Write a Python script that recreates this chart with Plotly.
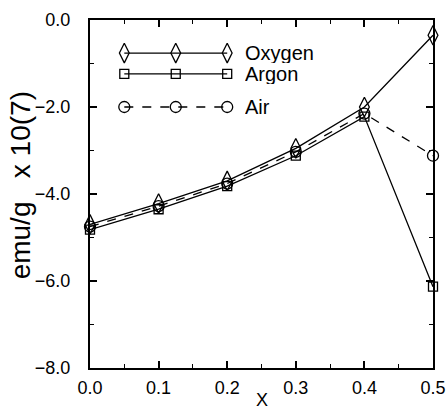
import plotly.graph_objects as go

x_vals = [0.0, 0.1, 0.2, 0.3, 0.4, 0.5]
oxygen = [-4.70, -4.22, -3.70, -2.95, -2.00, -0.35]
argon = [-4.82, -4.35, -3.82, -3.12, -2.22, -6.13]
air = [-4.75, -4.28, -3.76, -3.03, -2.15, -3.12]

series_names = ["Oxygen", "Argon", "Air"]
series_data = [oxygen, argon, air]
symbols = ["diamond-tall-open", "square-open", "circle-open"]
dashes = ["solid", "solid", "dash"]
sizes = [14, 9, 11]

x_ticks = [0.0, 0.1, 0.2, 0.3, 0.4, 0.5]
y_ticks = [0.0, -2.0, -4.0, -6.0, -8.0]

# legend sample positions (in a hidden 0..1 overlay axis)
leg_x = [0.10, 0.25, 0.40]
leg_y = [0.905, 0.845, 0.75]

FONT = "Liberation Sans, Arial, sans-serif"

fig = go.Figure()
for name, data, sym, dash, sz in zip(series_names, series_data, symbols, dashes, sizes):
    fig.add_trace(go.Scatter(
        x=x_vals, y=data, mode="lines+markers", name=name,
        line=dict(color="black", width=1.3, dash=dash),
        marker=dict(symbol=sym, size=sz, color="black", line=dict(width=1.3, color="black")),
        showlegend=False, cliponaxis=False,
    ))

for name, sym, dash, sz, ly in zip(series_names, symbols, dashes, sizes, leg_y):
    fig.add_trace(go.Scatter(
        x=leg_x, y=[ly] * len(leg_x), mode="lines+markers",
        xaxis="x2", yaxis="y2",
        line=dict(color="black", width=1.3, dash=dash),
        marker=dict(symbol=sym, size=sz, color="black", line=dict(width=1.3, color="black")),
        showlegend=False, hoverinfo="skip",
    ))
    fig.add_annotation(x=0.45, y=ly, xref="x2", yref="y2", text=name, showarrow=False,
                       xanchor="left", yanchor="middle", height=20, borderpad=0,
                       font=dict(family=FONT, size=20, color="black"))

# axis titles as annotations for exact placement
fig.add_annotation(x=-0.20, y=0.526, xref="paper", yref="paper", text="emu/g   x 10(7)",
                   textangle=-90, showarrow=False, xanchor="center", yanchor="middle",
                   font=dict(family=FONT, size=28, color="black"))
fig.add_annotation(x=0.50, y=-0.1236, xref="paper", yref="paper", text="X",
                   showarrow=False, xanchor="center", yanchor="bottom", borderpad=0,
                   font=dict(family=FONT, size=18, color="black"))

fig.update_layout(
    width=446, height=411,
    margin=dict(l=90, r=13, t=20, b=43),
    paper_bgcolor="white", plot_bgcolor="white",
    font=dict(family=FONT, size=18, color="black"),
    xaxis=dict(
        range=[0, 0.5], tickvals=x_ticks, tickformat=".1f", automargin=False,
        ticks="inside", ticklen=7, tickwidth=1.5, tickcolor="black",
        ticklabelstandoff=2, ticklabeloverflow="allow",
        minor=dict(dtick=0.05, ticks="inside", ticklen=4, tickwidth=1.2, tickcolor="black"),
        showline=True, linewidth=2, linecolor="black", mirror="ticks",
        showgrid=False, zeroline=False,
    ),
    yaxis=dict(
        range=[-8, 0], tickvals=y_ticks, tickformat=".1f", automargin=False,
        ticks="inside", ticklen=7, tickwidth=1.5, tickcolor="black",
        ticklabelstandoff=14, ticklabeloverflow="allow",
        minor=dict(dtick=1.0, ticks="inside", ticklen=4, tickwidth=1.2, tickcolor="black"),
        showline=True, linewidth=2, linecolor="black", mirror="ticks",
        showgrid=False, zeroline=False,
    ),
    xaxis2=dict(range=[0, 1], overlaying="x", visible=False, fixedrange=True),
    yaxis2=dict(range=[0, 1], overlaying="y", visible=False, fixedrange=True),
)

fig.write_html("out.html", config={"displayModeBar": False},
               post_script="document.body.style.margin='0';")
